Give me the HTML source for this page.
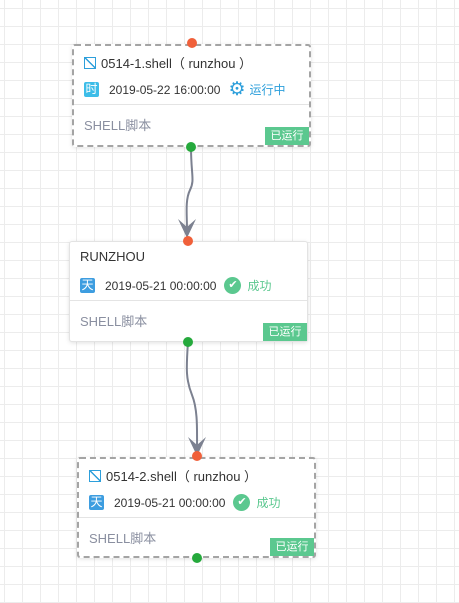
<!DOCTYPE html>
<html><head><meta charset="utf-8"><style>
body{margin:0;width:459px;height:603px;overflow:hidden;font-family:"Liberation Sans","Noto Sans CJK SC",sans-serif;
background-color:#fff;background-image:linear-gradient(#ececec 1px,transparent 1px),linear-gradient(90deg,#ececec 1px,transparent 1px);background-size:18px 18px;background-position:0 8px,4px 0;position:relative}
.n{position:absolute;width:239px;height:101px;background:#fff;box-sizing:border-box;border-radius:3px;box-shadow:0 1px 4px rgba(0,0,0,.12)}
.d{border:2px dashed #a4a4a4}
.s{border:1px solid #e3e3e3}
.t{position:absolute;left:10px;top:7px;font-size:13px;color:#333;white-space:nowrap}
.r{position:absolute;left:10px;top:35px;font-size:12px;color:#333;white-space:nowrap;display:flex;align-items:center}
.b{display:inline-block;width:15px;height:15px;color:#fff;font-size:12px;line-height:15px;text-align:center;border-radius:2px;margin-right:10px}
.line{position:absolute;left:0;right:0;top:58px;border-top:1px solid #e4e4e4}
.sh{position:absolute;left:10px;top:69px;font-size:13px;color:#8a8fa0}
.tag{position:absolute;right:0;bottom:0;width:44px;height:18px;background:#5bc88f;color:#fff;font-size:11px;line-height:18px;text-align:center}
.ic{display:inline-block;width:10px;height:10px;border:1px solid #2d9fdb;margin-right:5px;vertical-align:-1px;background:linear-gradient(45deg,transparent 46%,#2d9fdb 46%,#2d9fdb 56%,transparent 56%)}
.ok{display:inline-block;width:17px;height:17px;border-radius:50%;background:#5bc88f;color:#fff;font-size:11px;line-height:17px;text-align:center;margin:0 6px 0 8px}
.dot{position:absolute;width:10px;height:10px;border-radius:50%}
</style></head><body>
<svg width="459" height="603" style="position:absolute;left:0;top:0">
<g fill="none" stroke="#7c8190" stroke-width="2">
<path d="M191 147 C191 175 195 180 190 190 C185 200 187 215 187 230"/>
<path d="M188 342 C186 370 186 380 192 395 C198 410 197 430 197 450"/>
</g>
<g fill="#7c8190">
<path d="M178 219 L187 238 L196 219 L187 227 Z"/>
<path d="M188 437 L197 456 L206 437 L197 445 Z"/>
</g>
</svg>
<div class="n d" style="left:72px;top:44px;height:103px">
<div class="t"><span class="ic"></span>0514-1.shell（ runzhou ）</div>
<div class="r"><span class="b" style="background:#3dbde8">时</span>2019-05-22 16:00:00<span style="color:#2d9fdb;font-size:19px;line-height:16px;margin:0 4px 0 8px">⚙</span><span style="color:#2d9fdb">运行中</span></div>
<div class="line"></div><div class="sh">SHELL脚本</div><div class="tag">已运行</div></div>
<div class="n s" style="left:69px;top:241px">
<div class="t">RUNZHOU</div>
<div class="r"><span class="b" style="background:#3d9de0">天</span>2019-05-21 00:00:00<span class="ok">✔</span><span style="color:#5bc88f">成功</span></div>
<div class="line"></div><div class="sh">SHELL脚本</div><div class="tag">已运行</div></div>
<div class="n d" style="left:77px;top:457px">
<div class="t"><span class="ic"></span>0514-2.shell（ runzhou ）</div>
<div class="r"><span class="b" style="background:#3d9de0">天</span>2019-05-21 00:00:00<span class="ok">✔</span><span style="color:#5bc88f">成功</span></div>
<div class="line"></div><div class="sh">SHELL脚本</div><div class="tag">已运行</div></div>
<div class="dot" style="left:187px;top:38px;background:#f0603a"></div>
<div class="dot" style="left:186px;top:142px;background:#25a93c"></div>
<div class="dot" style="left:183px;top:236px;background:#f0603a"></div>
<div class="dot" style="left:183px;top:337px;background:#25a93c"></div>
<div class="dot" style="left:192px;top:451px;background:#f0603a"></div>
<div class="dot" style="left:192px;top:553px;background:#25a93c"></div>
</body></html>
